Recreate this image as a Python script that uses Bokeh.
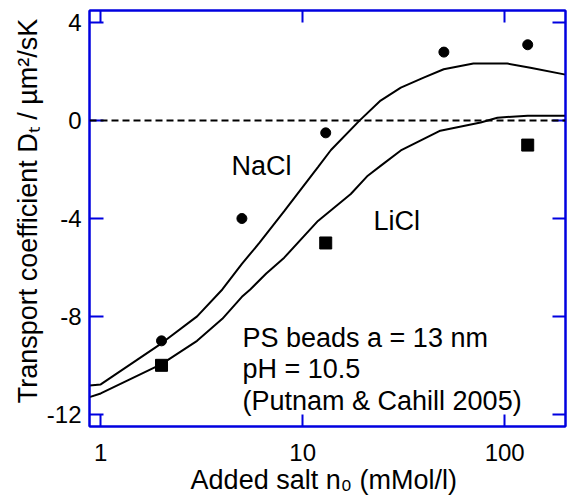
import math
from bokeh.plotting import figure
from bokeh.models import (LogAxis, LinearAxis, FixedTicker, NumeralTickFormatter,
                          Span, Label, Range1d)
from bokeh.embed import file_html
from bokeh.resources import INLINE

# ---- data ----
nacl_salt = [2, 5, 13, 50, 130]
nacl_dt = [-9.0, -4.0, -0.5, 2.8, 3.1]
licl_salt = [2, 13, 130]
licl_dt = [-10.0, -5.0, -1.0]

nacl_curve_x = [0.88, 1.0, 2.0, 3.0, 4.0, 5.0, 6.1, 8.1, 11.9, 13.8, 19.1, 24.3, 30.6, 39.7, 49.9, 70, 103, 134, 200]
nacl_curve_y = [-10.82, -10.78, -9.1, -8.0, -6.9, -5.85, -5.0, -3.7, -1.9, -1.2, 0.0, 0.82, 1.35, 1.76, 2.1, 2.33, 2.33, 2.16, 1.88]
licl_curve_x = [0.88, 1.0, 2.0, 3.0, 4.0, 5.0, 5.5, 6.6, 8.1, 11.9, 17.3, 21, 24.3, 30.6, 48, 76, 92, 130, 200]
licl_curve_y = [-11.3, -11.15, -9.95, -9.0, -8.1, -7.2, -6.9, -6.25, -5.6, -4.1, -3.0, -2.25, -1.85, -1.22, -0.41, -0.08, 0.12, 0.2, 0.2]

x_ticks = [1, 10, 100]
y_ticks = [-12, -8, -4, 0, 4]

x_title = "Added salt n\u2080  (mMol/l)"
y_title = "\u00a0\u00a0\u00a0Transport coefficient D\u209c  / \u00b5m\u00b2/sK"

XL, XR = 0.88, 200
YB, YT = -12.5, 4.5

BLUE = "#0000e0"
FONT = "Liberation Sans"

# frame placement on the canvas (pixels)
FL, FT, FW, FH = 89, 10, 476, 416

p = figure(width=571, height=504, x_axis_type="log",
           x_range=Range1d(XL, XR), y_range=Range1d(YB, YT),
           output_backend="svg", toolbar_location=None,
           min_border_left=FL, min_border_right=571 - FL - FW,
           min_border_top=FT, min_border_bottom=504 - FT - FH)
p.grid.visible = False
p.outline_line_color = BLUE
p.outline_line_width = 2
p.background_fill_color = "white"
p.border_fill_color = "white"

def style_axis(ax, tick_in, labels=True):
    ax.axis_line_color = BLUE
    ax.axis_line_width = 2
    ax.major_tick_line_color = BLUE
    ax.major_tick_line_width = 2
    ax.major_tick_in = tick_in
    ax.major_tick_out = 0
    ax.minor_tick_line_color = None
    if labels:
        ax.major_label_text_font = FONT
        ax.major_label_text_font_size = "24px"
        ax.major_label_text_color = "black"
        ax.axis_label_text_font = FONT
        ax.axis_label_text_font_size = "27px"
        ax.axis_label_text_font_style = "normal"
        ax.axis_label_text_color = "black"
    else:
        ax.major_label_text_font_size = "1px"
        ax.major_label_text_alpha = 0
        ax.major_label_standoff = 0

xb = p.xaxis[0]
xb.ticker = FixedTicker(ticks=x_ticks)
xb.formatter = NumeralTickFormatter(format="0")
style_axis(xb, 12)
xb.major_label_standoff = 17
xb.axis_label = x_title
xb.axis_label_standoff = 1

yl = p.yaxis[0]
yl.ticker = FixedTicker(ticks=y_ticks)
yl.formatter = NumeralTickFormatter(format="0")
style_axis(yl, 14)
yl.major_label_standoff = 8
yl.axis_label = y_title
yl.axis_label_standoff = 1

xt = LogAxis(ticker=FixedTicker(ticks=x_ticks), formatter=NumeralTickFormatter(format="0"))
style_axis(xt, 12, labels=False)
p.add_layout(xt, "above")

yr = LinearAxis(ticker=FixedTicker(ticks=y_ticks), formatter=NumeralTickFormatter(format="0"))
style_axis(yr, 13, labels=False)
p.add_layout(yr, "right")

# zero line
p.add_layout(Span(location=0, dimension="width", line_color="black",
                  line_dash="7 4", line_width=2))

# model curves
p.line(nacl_curve_x, nacl_curve_y, line_color="black", line_width=2)
p.line(licl_curve_x, licl_curve_y, line_color="black", line_width=2)

# data points
p.scatter(nacl_salt, nacl_dt, marker="circle", size=10, color="black")
p.scatter(licl_salt, licl_dt, marker="square", size=12, color="black")

def lab(px, py, text, size=27):
    # px, py: canvas pixels from top-left; converted to frame-relative screen units
    p.add_layout(Label(x=px - FL, y=(FT + FH) - py, x_units="screen", y_units="screen",
                       text=text, text_font=FONT, text_font_size=f"{size}px",
                       text_color="black", text_align="left",
                       text_baseline="alphabetic"))

# in-plot annotations
lab(231, 165, "NaCl")
lab(373, 220, "LiCl")
lab(242, 337, "PS beads a = 13 nm")
lab(242, 368, "pH = 10.5")
lab(242, 400, "(Putnam & Cahill 2005)")

open("out.html", "w").write(file_html(p, INLINE))
